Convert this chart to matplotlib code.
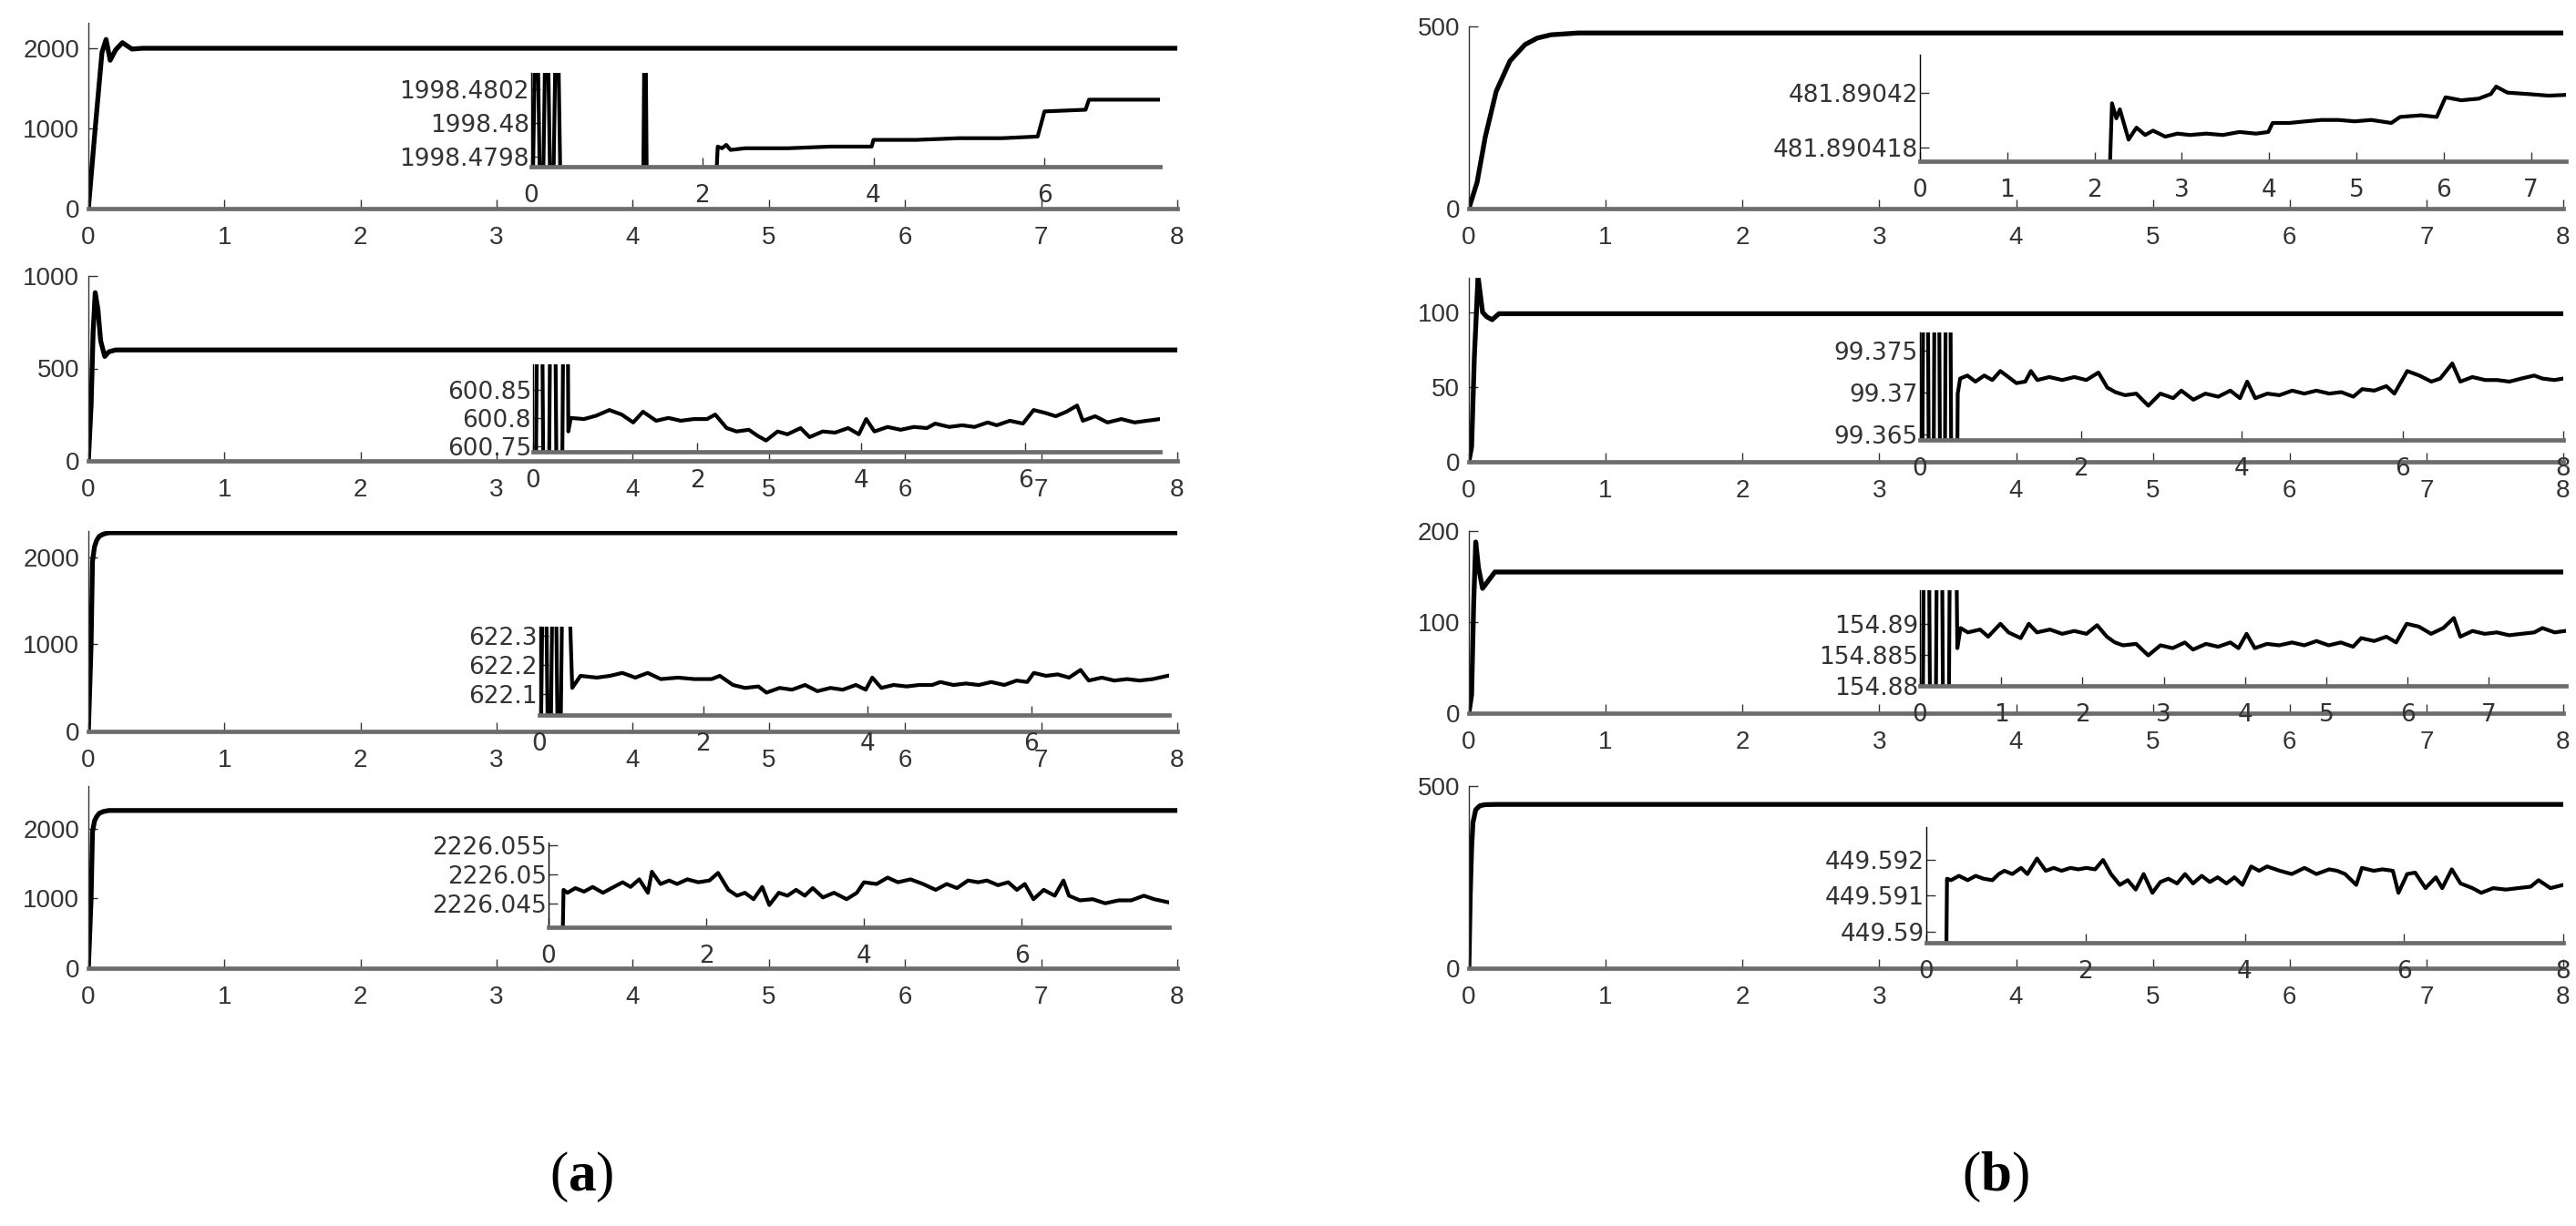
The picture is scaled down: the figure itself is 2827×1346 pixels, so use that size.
import numpy as np
import matplotlib
matplotlib.use("Agg")
import matplotlib.pyplot as plt

plt.rcParams['font.family'] = ['Liberation Sans', 'DejaVu Sans']
plt.rcParams['mathtext.fontset'] = 'custom'
plt.rcParams['mathtext.rm'] = 'Liberation Serif'
plt.rcParams['mathtext.bf'] = 'Liberation Serif:bold'

# ---------------- main curves ----------------
A1_T = [0, 0.05, 0.10, 0.13, 0.16, 0.20, 0.25, 0.32, 0.40, 8]
A1_Y = [0, 1000, 1950, 2110, 1850, 1980, 2070, 1990, 2000, 2000]
A2_T = [0, 0.02, 0.035, 0.05, 0.07, 0.09, 0.12, 0.15, 0.20, 8]
A2_Y = [0, 300, 700, 910, 820, 650, 565, 590, 600, 600]
A3_T = [0, 0.01, 0.02, 0.03, 0.045, 0.06, 0.08, 0.11, 0.15, 8]
A3_Y = [0, 500, 1000, 1950, 2120, 2190, 2240, 2265, 2280, 2280]
A4_T = [0, 0.01, 0.02, 0.03, 0.045, 0.06, 0.08, 0.11, 0.15, 8]
A4_Y = [0, 500, 1000, 1950, 2110, 2170, 2220, 2245, 2260, 2260]

B1_T = [0, 0.06, 0.12, 0.20, 0.30, 0.41, 0.50, 0.60, 0.80, 8]
B1_Y = [0, 72, 197, 322, 405, 450, 468, 477, 482, 482]
B2_T = [0, 0.02, 0.04, 0.067, 0.10, 0.13, 0.17, 0.22, 8]
B2_Y = [0, 10, 70, 124, 100, 97, 95, 99, 99]
B3_T = [0, 0.02, 0.035, 0.05, 0.07, 0.10, 0.14, 0.19, 8]
B3_Y = [0, 20, 120, 188, 160, 137, 145, 155, 155]
B4_T = [0, 0.01, 0.02, 0.03, 0.05, 0.08, 0.12, 0.20, 8]
B4_Y = [0, 200, 330, 400, 435, 446, 449, 449.6, 449.6]

# ---------------- inset (zoomed) curves ----------------
A1I_T = [0.00, 0.06, 0.12, 0.18, 0.24, 0.30, 0.36, 1.30, 1.33, 1.36, 2.10, 2.18, 2.23, 2.28,
         2.33, 2.50, 3.00, 3.50, 3.98, 4.00, 4.50, 5.00, 5.50, 5.92, 6.00, 6.48, 6.52, 7.35]
A1I_Y = [1998.4790, 1998.4810, 1998.4790, 1998.4810, 1998.4790, 1998.4810, 1998.4790,
         1998.4790, 1998.4810, 1998.4790, 1998.4790, 1998.47986, 1998.47985, 1998.47987,
         1998.47984, 1998.47985, 1998.47985, 1998.47986, 1998.47986, 1998.47990, 1998.47990,
         1998.47991, 1998.47991, 1998.47992, 1998.48007, 1998.48008, 1998.48014, 1998.48014]

A2I_T = [0.00, 0.08, 0.16, 0.24, 0.32, 0.40, 0.43, 0.46, 0.62, 0.77, 0.93, 1.08, 1.22, 1.34,
         1.50, 1.65, 1.80, 1.96, 2.12, 2.22, 2.36, 2.48, 2.63, 2.74, 2.84, 2.98, 3.10, 3.26,
         3.37, 3.53, 3.68, 3.84, 3.97, 4.06, 4.16, 4.32, 4.48, 4.64, 4.80, 4.90, 5.07, 5.23,
         5.38, 5.54, 5.65, 5.81, 5.97, 6.10, 6.24, 6.37, 6.50, 6.63, 6.70, 6.85, 7.00, 7.17,
         7.33, 7.48, 7.64]
A2I_Y = [600.00, 601.60, 600.00, 601.60, 600.00, 601.60, 600.776, 600.800, 600.798, 600.804,
         600.814, 600.806, 600.792, 600.811, 600.795, 600.800, 600.795, 600.798, 600.798,
         600.806, 600.782, 600.776, 600.779, 600.768, 600.760, 600.776, 600.771, 600.782,
         600.766, 600.776, 600.774, 600.782, 600.771, 600.798, 600.776, 600.784, 600.779,
         600.784, 600.782, 600.790, 600.784, 600.787, 600.784, 600.792, 600.787, 600.795,
         600.790, 600.814, 600.809, 600.803, 600.811, 600.822, 600.795, 600.803, 600.792,
         600.798, 600.792, 600.795, 600.798]

A3I_T = [0.00, 0.06, 0.12, 0.18, 0.24, 0.30, 0.40, 0.50, 0.70, 0.86, 1.01, 1.17, 1.32, 1.48,
         1.69, 1.89, 2.10, 2.20, 2.36, 2.51, 2.67, 2.77, 2.93, 3.08, 3.24, 3.39, 3.55, 3.70,
         3.86, 3.98, 4.06, 4.17, 4.32, 4.48, 4.63, 4.79, 4.89, 5.05, 5.20, 5.36, 5.51, 5.67,
         5.82, 5.95, 6.03, 6.18, 6.32, 6.46, 6.60, 6.70, 6.86, 7.01, 7.17, 7.32, 7.48, 7.66]
A3I_Y = [621.50, 623.00, 621.50, 623.00, 621.50, 623.00, 622.122, 622.163, 622.157, 622.163,
         622.173, 622.157, 622.173, 622.152, 622.157, 622.152, 622.152, 622.163, 622.132,
         622.122, 622.127, 622.106, 622.122, 622.116, 622.132, 622.111, 622.122, 622.116,
         622.132, 622.116, 622.157, 622.122, 622.132, 622.127, 622.132, 622.132, 622.142,
         622.132, 622.137, 622.132, 622.142, 622.132, 622.147, 622.142, 622.173, 622.163,
         622.168, 622.157, 622.183, 622.147, 622.157, 622.147, 622.152, 622.147, 622.152,
         622.163]

A4I_T = [0.00, 0.18, 0.19, 0.24, 0.34, 0.45, 0.56, 0.69, 0.80, 0.94, 1.04, 1.15, 1.26, 1.31,
         1.42, 1.53, 1.63, 1.76, 1.90, 2.04, 2.15, 2.28, 2.39, 2.49, 2.60, 2.71, 2.80, 2.92,
         3.03, 3.14, 3.25, 3.35, 3.48, 3.62, 3.78, 3.91, 4.00, 4.16, 4.30, 4.43, 4.59, 4.75,
         4.91, 5.05, 5.18, 5.32, 5.45, 5.56, 5.70, 5.83, 5.94, 6.04, 6.15, 6.28, 6.42, 6.53,
         6.60, 6.74, 6.90, 7.06, 7.23, 7.39, 7.55, 7.68, 7.85]
A4I_Y = [2226.0400, 2226.0400, 2226.0474, 2226.0469, 2226.0477, 2226.0471, 2226.0479,
         2226.0469, 2226.0477, 2226.0487, 2226.0479, 2226.0492, 2226.0469, 2226.0505,
         2226.0484, 2226.0490, 2226.0484, 2226.0492, 2226.0487, 2226.0490, 2226.0503,
         2226.0474, 2226.0464, 2226.0469, 2226.0458, 2226.0479, 2226.0448, 2226.0469,
         2226.0464, 2226.0474, 2226.0464, 2226.0477, 2226.0461, 2226.0469, 2226.0458,
         2226.0469, 2226.0487, 2226.0484, 2226.0495, 2226.0487, 2226.0492, 2226.0484,
         2226.0474, 2226.0484, 2226.0477, 2226.0490, 2226.0487, 2226.0490, 2226.0482,
         2226.0487, 2226.0474, 2226.0484, 2226.0458, 2226.0474, 2226.0464, 2226.0490,
         2226.0464, 2226.0456, 2226.0458, 2226.0451, 2226.0456, 2226.0456, 2226.0464,
         2226.0458, 2226.0453]

B1I_T = [0.00, 2.10, 2.20, 2.25, 2.29, 2.39, 2.48, 2.58, 2.67, 2.81, 2.95, 3.09, 3.28, 3.47,
         3.66, 3.85, 3.99, 4.04, 4.23, 4.42, 4.60, 4.79, 4.98, 5.17, 5.40, 5.50, 5.74, 5.92,
         6.02, 6.20, 6.40, 6.54, 6.60, 6.73, 6.96, 7.20, 7.42]
B1I_Y = [481.890410, 481.890410, 481.89041962, 481.89041907, 481.89041940, 481.89041829,
         481.89041873, 481.89041846, 481.89041862, 481.89041840, 481.89041851, 481.89041846,
         481.89041851, 481.89041846, 481.89041857, 481.89041851, 481.89041857, 481.89041890,
         481.89041890, 481.89041896, 481.89041901, 481.89041901, 481.89041896, 481.89041901,
         481.89041890, 481.89041912, 481.89041918, 481.89041912, 481.89041984, 481.89041973,
         481.89041979, 481.89041996, 481.89042023, 481.89042001, 481.89041996, 481.89041990,
         481.89041993]

B2I_T = [0.00, 0.07, 0.14, 0.21, 0.28, 0.35, 0.42, 0.47, 0.50, 0.59, 0.69, 0.80, 0.90, 1.00,
         1.10, 1.20, 1.31, 1.38, 1.46, 1.61, 1.77, 1.92, 2.07, 2.22, 2.33, 2.43, 2.55, 2.69,
         2.84, 2.99, 3.15, 3.25, 3.40, 3.55, 3.71, 3.86, 3.98, 4.07, 4.17, 4.32, 4.47, 4.63,
         4.78, 4.93, 5.09, 5.24, 5.39, 5.50, 5.65, 5.80, 5.90, 6.06, 6.21, 6.36, 6.47, 6.62,
         6.72, 6.87, 7.03, 7.18, 7.33, 7.48, 7.64, 7.74, 7.89, 8.00]
B2I_Y = [99.30, 99.44, 99.30, 99.44, 99.30, 99.44, 99.30, 99.36986, 99.37167, 99.37203,
         99.37130, 99.37203, 99.37149, 99.37257, 99.37185, 99.37112, 99.37130, 99.37257,
         99.37149, 99.37185, 99.37149, 99.37185, 99.37149, 99.37239, 99.37058, 99.37004,
         99.36967, 99.36986, 99.36841, 99.36986, 99.36931, 99.37022, 99.36913, 99.36986,
         99.36949, 99.37022, 99.36931, 99.37130, 99.36931, 99.36986, 99.36967, 99.37022,
         99.36986, 99.37022, 99.36986, 99.37004, 99.36949, 99.37040, 99.37022, 99.37076,
         99.36986, 99.37257, 99.37203, 99.37130, 99.37167, 99.37348, 99.37130, 99.37185,
         99.37149, 99.37149, 99.37130, 99.37167, 99.37203, 99.37167, 99.37149, 99.37167]

B3I_T = [0.00, 0.08, 0.16, 0.24, 0.32, 0.40, 0.46, 0.50, 0.59, 0.74, 0.84, 0.99, 1.09, 1.24,
         1.34, 1.44, 1.60, 1.75, 1.90, 2.05, 2.18, 2.30, 2.40, 2.50, 2.66, 2.81, 2.96, 3.11,
         3.26, 3.36, 3.52, 3.67, 3.82, 3.92, 4.02, 4.12, 4.27, 4.42, 4.58, 4.73, 4.88, 5.03,
         5.18, 5.33, 5.43, 5.59, 5.74, 5.86, 5.99, 6.14, 6.29, 6.44, 6.57, 6.65, 6.80, 6.95,
         7.10, 7.25, 7.40, 7.56, 7.66, 7.81, 7.94]
B3I_Y = [154.80, 154.97, 154.80, 154.97, 154.80, 154.97, 154.88607, 154.88931, 154.88861,
         154.88907, 154.88792, 154.89000, 154.88861, 154.88769, 154.89000, 154.88861,
         154.88907, 154.88838, 154.88884, 154.88838, 154.88977, 154.88792, 154.88699,
         154.88653, 154.88676, 154.88491, 154.88653, 154.88607, 154.88699, 154.88584,
         154.88676, 154.88630, 154.88699, 154.88607, 154.88838, 154.88607, 154.88676,
         154.88653, 154.88699, 154.88653, 154.88722, 154.88653, 154.88699, 154.88630,
         154.88769, 154.88722, 154.88792, 154.88699, 154.89000, 154.88954, 154.88838,
         154.88931, 154.89093, 154.88792, 154.88884, 154.88838, 154.88861, 154.88815,
         154.88838, 154.88861, 154.88931, 154.88861, 154.88884]

B4I_T = [0.00, 0.25, 0.26, 0.31, 0.41, 0.52, 0.62, 0.72, 0.83, 0.91, 0.98, 1.08, 1.19, 1.27,
         1.39, 1.50, 1.60, 1.70, 1.81, 1.91, 2.01, 2.12, 2.22, 2.32, 2.43, 2.53, 2.63, 2.73,
         2.84, 2.94, 3.04, 3.15, 3.25, 3.35, 3.46, 3.56, 3.66, 3.77, 3.87, 3.97, 4.08, 4.18,
         4.28, 4.44, 4.59, 4.75, 4.90, 5.06, 5.16, 5.26, 5.40, 5.47, 5.62, 5.73, 5.86, 5.93,
         6.04, 6.14, 6.27, 6.40, 6.48, 6.60, 6.71, 6.86, 6.97, 7.12, 7.28, 7.43, 7.59, 7.69,
         7.84, 8.00]
B4I_Y = [449.5890, 449.5890, 449.59147, 449.59143, 449.59155, 449.59143, 449.59155, 449.59147,
         449.59143, 449.59160, 449.59169, 449.59160, 449.59177, 449.59160, 449.59203, 449.59169,
         449.59177, 449.59169, 449.59177, 449.59173, 449.59177, 449.59173, 449.59199, 449.59160,
         449.59130, 449.59143, 449.59117, 449.59160, 449.59108, 449.59138, 449.59147, 449.59134,
         449.59160, 449.59134, 449.59155, 449.59138, 449.59151, 449.59134, 449.59151, 449.59130,
         449.59181, 449.59169, 449.59181, 449.59169, 449.59160, 449.59177, 449.59160, 449.59173,
         449.59169, 449.59160, 449.59130, 449.59177, 449.59169, 449.59173, 449.59169, 449.59108,
         449.59160, 449.59164, 449.59121, 449.59151, 449.59121, 449.59173, 449.59134, 449.59121,
         449.59108, 449.59121, 449.59117, 449.59121, 449.59125, 449.59143, 449.59121, 449.59130]

# tick values / labels
MAIN_XTICKS = [0, 1, 2, 3, 4, 5, 6, 7, 8]
A_YTICKS = [0, 1000, 2000]
A2_YTICKS = [0, 500, 1000]
B1_YTICKS = [0, 500]
B2_YTICKS = [0, 50, 100]
B3_YTICKS = [0, 100, 200]
B4_YTICKS = [0, 500]

A1I_YT = [1998.4798, 1998.48, 1998.4802]
A1I_YL = ['1998.4798', '1998.48', '1998.4802']
A2I_YT = [600.75, 600.8, 600.85]
A2I_YL = ['600.75', '600.8', '600.85']
A3I_YT = [622.1, 622.2, 622.3]
A3I_YL = ['622.1', '622.2', '622.3']
A4I_YT = [2226.045, 2226.05, 2226.055]
A4I_YL = ['2226.045', '2226.05', '2226.055']
B1I_YT = [481.890418, 481.89042]
B1I_YL = ['481.890418', '481.89042']
B2I_YT = [99.365, 99.37, 99.375]
B2I_YL = ['99.365', '99.37', '99.375']
B3I_YT = [154.88, 154.885, 154.89]
B3I_YL = ['154.88', '154.885', '154.89']
B4I_YT = [449.59, 449.591, 449.592]
B4I_YL = ['449.59', '449.591', '449.592']

# ---------------- figure ----------------
W, H = 2827, 1346
fig = plt.figure(figsize=(W / 100, H / 100), dpi=100)
fig.patch.set_facecolor('white')

LABEL_C = '#333333'


def add_px(x0, x1, y0, y1, z=1):
    ax = fig.add_axes([x0 / W, 1 - y1 / H, (x1 - x0) / W, (y1 - y0) / H])
    ax.set_zorder(z)
    ax.patch.set_visible(False)
    return ax


def style(ax, xlim, ylim, xticks, yticks, ylabels=None, ypad=7, lsize=20, family=None):
    ax.set_xlim(*xlim)
    ax.set_ylim(*ylim)
    ax.set_xticks(xticks)
    ax.set_xticklabels([str(t) for t in xticks])
    ax.set_yticks(yticks)
    if ylabels is not None:
        ax.set_yticklabels(ylabels)
    else:
        ax.set_yticklabels([str(t) for t in yticks])
    for s in ['top', 'right']:
        ax.spines[s].set_visible(False)
    ax.spines['left'].set_color('#333333')
    ax.spines['left'].set_linewidth(1.0)
    ax.spines['bottom'].set_color('#6c6c6c')
    ax.spines['bottom'].set_linewidth(3.4)
    ax.tick_params(axis='both', direction='in', length=7, width=1.0, color='#333333',
                   labelsize=lsize, labelcolor=LABEL_C)
    ax.tick_params(axis='x', pad=14)
    ax.tick_params(axis='y', pad=ypad)
    if family is not None:
        for lab in ax.get_xticklabels() + ax.get_yticklabels():
            lab.set_family(family)


MAIN_LW = 3.8
INS_LW = 3.0

# ---- column (a) ----
ax = add_px(97, 1292, 25, 229)
ax.plot(A1_T, A1_Y, color='black', lw=MAIN_LW, solid_joinstyle='round')
style(ax, (0, 8), (0, 2318), MAIN_XTICKS, A_YTICKS)

ax = add_px(97, 1292, 303, 506)
ax.plot(A2_T, A2_Y, color='black', lw=MAIN_LW, solid_joinstyle='round')
style(ax, (0, 8), (0, 1000), MAIN_XTICKS, A2_YTICKS)

ax = add_px(97, 1292, 583, 803)
ax.plot(A3_T, A3_Y, color='black', lw=MAIN_LW, solid_joinstyle='round')
style(ax, (0, 8), (0, 2300), MAIN_XTICKS, A_YTICKS)

ax = add_px(97, 1292, 863, 1063)
ax.plot(A4_T, A4_Y, color='black', lw=MAIN_LW, solid_joinstyle='round')
style(ax, (0, 8), (0, 2610), MAIN_XTICKS, A_YTICKS)

# ---- column (b) ----
ax = add_px(1612, 2813, 29, 229)
ax.plot(B1_T, B1_Y, color='black', lw=MAIN_LW, solid_joinstyle='round')
style(ax, (0, 8), (0, 500), MAIN_XTICKS, B1_YTICKS)

ax = add_px(1612, 2813, 305, 507)
ax.plot(B2_T, B2_Y, color='black', lw=MAIN_LW, solid_joinstyle='round')
style(ax, (0, 8), (0, 123), MAIN_XTICKS, B2_YTICKS)

ax = add_px(1612, 2813, 583, 783)
ax.plot(B3_T, B3_Y, color='black', lw=MAIN_LW, solid_joinstyle='round')
style(ax, (0, 8), (0, 200), MAIN_XTICKS, B3_YTICKS)

ax = add_px(1612, 2813, 863, 1063)
ax.plot(B4_T, B4_Y, color='black', lw=MAIN_LW, solid_joinstyle='round')
style(ax, (0, 8), (0, 500), MAIN_XTICKS, B4_YTICKS)

# ---- insets ----
insets = [
    ((583, 1273, 80, 183), A1I_T, A1I_Y, (0, 7.35), (1998.47974, 1998.4803), [0, 2, 4, 6], A1I_YT, A1I_YL),
    ((585, 1273, 400, 496), A2I_T, A2I_Y, (0, 7.64), (600.74, 600.895), [0, 2, 4, 6], A2I_YT, A2I_YL),
    ((592, 1283, 688, 785), A3I_T, A3I_Y, (0, 7.68), (622.03, 622.33), [0, 2, 4, 6], A3I_YT, A3I_YL),
    ((602, 1283, 925, 1018), A4I_T, A4I_Y, (0, 7.87), (2226.041, 2226.0555), [0, 2, 4, 6], A4I_YT, A4I_YL),
    ((2107, 2816, 60, 177), B1I_T, B1I_Y, (0, 7.4), (481.8904175, 481.8904214), [0, 1, 2, 3, 4, 5, 6, 7], B1I_YT, B1I_YL),
    ((2107, 2813, 365, 483), B2I_T, B2I_Y, (0, 8), (99.3643, 99.3772), [0, 2, 4, 6, 8], B2I_YT, B2I_YL),
    ((2107, 2816, 648, 753), B3I_T, B3I_Y, (0, 7.95), (154.88, 154.8954), [0, 1, 2, 3, 4, 5, 6, 7], B3I_YT, B3I_YL),
    ((2114, 2813, 908, 1035), B4I_T, B4I_Y, (0, 8), (449.5897, 449.5929), [0, 2, 4, 6, 8], B4I_YT, B4I_YL),
]
for (x0, x1, y0, y1), t, y, xl, yl, xt, yt, ylab in insets:
    ax = add_px(x0, x1, y0, y1, z=5)
    ax.plot(t, y, color='black', lw=INS_LW, solid_joinstyle='round')
    style(ax, xl, yl, xt, yt, ylabels=ylab, ypad=1.5, lsize=19, family='DejaVu Sans')
    ax.spines['left'].set_color('black')

# ---- captions ----
fig.text(638 / W, 1 - 1292 / H, r'($\mathbf{a}$)', ha='center', va='center',
         fontsize=44, family='Liberation Serif')
fig.text(2190 / W, 1 - 1292 / H, r'($\mathbf{b}$)', ha='center', va='center',
         fontsize=44, family='Liberation Serif')

fig.savefig('out.png', dpi=100, facecolor='white')
